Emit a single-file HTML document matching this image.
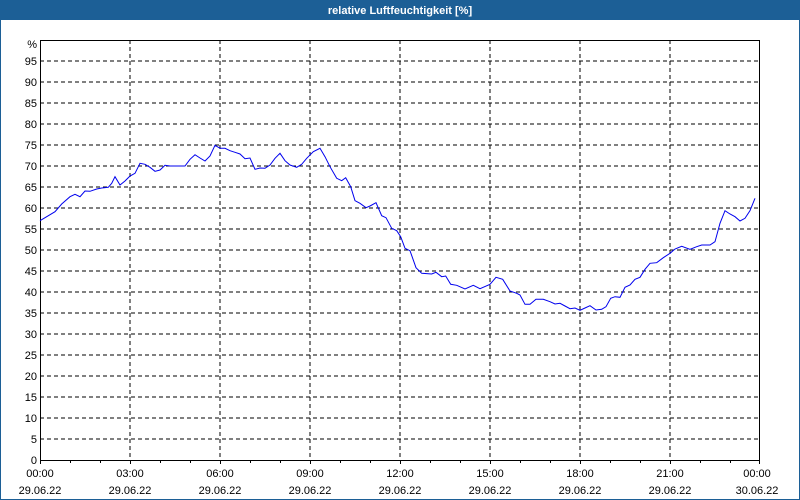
<!DOCTYPE html>
<html><head><meta charset="utf-8"><style>
html,body{margin:0;padding:0;background:#fff}
svg{display:block}
text{font-family:"Liberation Sans","DejaVu Sans",sans-serif;font-size:11px;fill:#000}
</style></head><body>
<svg width="800" height="500" viewBox="0 0 800 500" xmlns="http://www.w3.org/2000/svg">
<rect x="0" y="0" width="800" height="500" fill="#fff"/>
<rect x="0.5" y="0.5" width="799" height="499" fill="none" stroke="#1c5f96" stroke-width="1"/>
<rect x="0" y="0" width="800" height="20" fill="#1c5f96"/>
<text x="400" y="14" text-anchor="middle" style="fill:#fff;font-weight:bold">relative Luftfeuchtigkeit [%]</text>
<g stroke="#000" stroke-width="1" stroke-dasharray="4,3" shape-rendering="crispEdges">
<line x1="40" x2="760" y1="61" y2="61"/><line x1="40" x2="760" y1="82" y2="82"/><line x1="40" x2="760" y1="103" y2="103"/><line x1="40" x2="760" y1="124" y2="124"/><line x1="40" x2="760" y1="145" y2="145"/><line x1="40" x2="760" y1="166" y2="166"/><line x1="40" x2="760" y1="187" y2="187"/><line x1="40" x2="760" y1="208" y2="208"/><line x1="40" x2="760" y1="229" y2="229"/><line x1="40" x2="760" y1="250" y2="250"/><line x1="40" x2="760" y1="271" y2="271"/><line x1="40" x2="760" y1="292" y2="292"/><line x1="40" x2="760" y1="313" y2="313"/><line x1="40" x2="760" y1="334" y2="334"/><line x1="40" x2="760" y1="355" y2="355"/><line x1="40" x2="760" y1="376" y2="376"/><line x1="40" x2="760" y1="397" y2="397"/><line x1="40" x2="760" y1="418" y2="418"/><line x1="40" x2="760" y1="439" y2="439"/>
<line y1="40" y2="460" x1="130" x2="130"/><line y1="40" y2="460" x1="220" x2="220"/><line y1="40" y2="460" x1="310" x2="310"/><line y1="40" y2="460" x1="400" x2="400"/><line y1="40" y2="460" x1="490" x2="490"/><line y1="40" y2="460" x1="580" x2="580"/><line y1="40" y2="460" x1="670" x2="670"/>
</g>
<g stroke="#000" stroke-width="1" shape-rendering="crispEdges">
<rect x="40.5" y="40.5" width="719" height="420" fill="none"/>
<path d="M40.5 460v4M70.5 460v3M100.5 460v3M130.5 460v4M160.5 460v3M190.5 460v3M220.5 460v4M250.5 460v3M280.5 460v3M310.5 460v4M340.5 460v3M370.5 460v3M400.5 460v4M430.5 460v3M460.5 460v3M490.5 460v4M520.5 460v3M550.5 460v3M580.5 460v4M610.5 460v3M640.5 460v3M670.5 460v4M700.5 460v3M730.5 460v3M759.5 460v4"/>
</g>
<g text-anchor="end">
<text x="37" y="48">%</text><text x="37" y="65">95</text><text x="37" y="86">90</text><text x="37" y="107">85</text><text x="37" y="128">80</text><text x="37" y="149">75</text><text x="37" y="170">70</text><text x="37" y="191">65</text><text x="37" y="212">60</text><text x="37" y="233">55</text><text x="37" y="254">50</text><text x="37" y="275">45</text><text x="37" y="296">40</text><text x="37" y="317">35</text><text x="37" y="338">30</text><text x="37" y="359">25</text><text x="37" y="380">20</text><text x="37" y="401">15</text><text x="37" y="422">10</text><text x="37" y="443">5</text><text x="37" y="464">0</text>
</g>
<g text-anchor="middle">
<text x="40" y="477">00:00</text><text x="40" y="494">29.06.22</text>
<text x="130" y="477">03:00</text><text x="130" y="494">29.06.22</text>
<text x="220" y="477">06:00</text><text x="220" y="494">29.06.22</text>
<text x="310" y="477">09:00</text><text x="310" y="494">29.06.22</text>
<text x="400" y="477">12:00</text><text x="400" y="494">29.06.22</text>
<text x="490" y="477">15:00</text><text x="490" y="494">29.06.22</text>
<text x="580" y="477">18:00</text><text x="580" y="494">29.06.22</text>
<text x="670" y="477">21:00</text><text x="670" y="494">29.06.22</text>
<text x="757" y="477">00:00</text><text x="757" y="494">30.06.22</text>
</g>
<polyline fill="none" stroke="#0000ee" stroke-width="1" points="40,220.7 46.7,216.7 55,211.7 61.7,204 70,196.7 75,194.3 80,196.7 85,191 90,191.3 96.7,189 101.7,188 108.3,187.3 111.7,183.3 115,176.7 120,185 125,181 130,176 135,173.3 140,163.3 145,164.3 150,167.3 155,171.3 160,170 165,165.3 170,166 185,166 190,159.3 195,154.7 200,158 205,161 210,156 215,145.3 220,148.3 225,148.3 230,150.7 235,152.3 240,154 245,158.7 250,158 255,169.3 260,168 265,168.3 270,165 275,158.3 280,153.3 285,160.7 290,165 296.7,167.3 301.7,164.3 306.7,158.3 313.3,151.7 320,148.3 325,156.7 330,166.7 336.7,178.3 341.7,180.7 345.7,177.7 350.7,186.7 355,200.7 360,203.3 366,207.7 370,206 376,202.7 381.7,215.7 386,217.7 391.7,228.3 396.7,230.7 400.7,236.7 405,248.3 410,250.7 416,267.7 421.7,273.3 431.7,274 436,272.3 441.7,276.7 445.7,276 450.7,284.3 456.7,285.3 465,289 473.3,285.3 480,288.7 490,284.3 496,277.3 502.7,279.3 510,291 516.7,293.3 520,295 525,304.3 530,304.3 536,299.3 543.3,299.3 550,301.7 555,304 560,303.3 565,306 570,308.7 575,308 580,310.3 585,308 590,305.7 596,310 601.7,309.3 606,306.7 610.7,298.3 615,296.7 620,297.3 625,287.3 630,285 635,279.3 640,277.3 645,269.3 650,263.3 656.7,262.7 663.3,257.7 670,253.3 675,249 681.7,246.3 690,249.3 696.7,246.7 701.7,245 710,245 715,241.7 720,223.3 725,210.7 730,214 735,216.7 740,221 745,218.3 750,210.7 755,198.3"/>
</svg>
</body></html>
